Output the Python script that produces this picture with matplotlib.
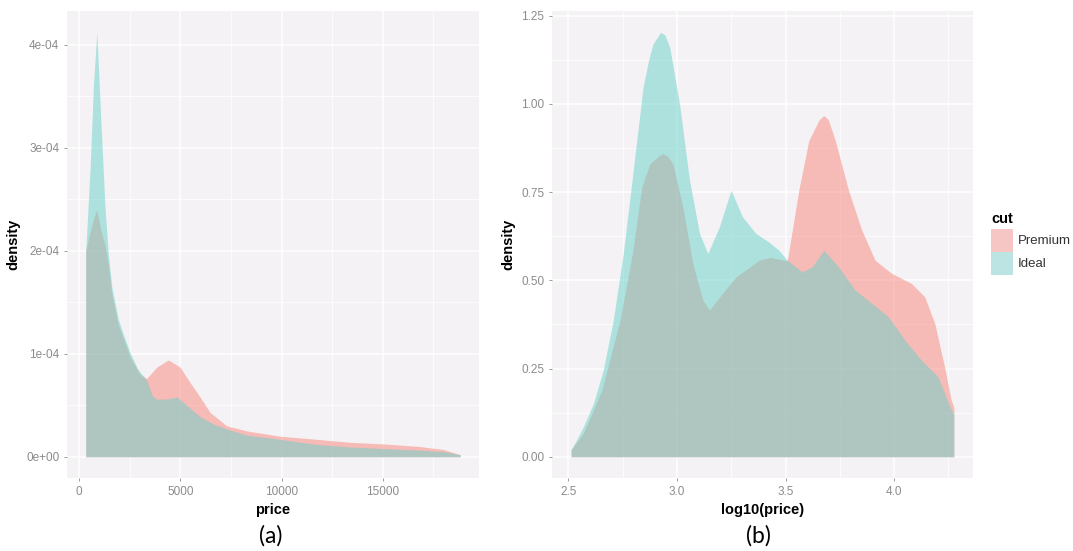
import matplotlib
matplotlib.use("Agg")
import matplotlib.pyplot as plt
from matplotlib.patches import Rectangle
from matplotlib.ticker import MultipleLocator, FuncFormatter

# ---------------- data ----------------
# panel (a): density vs price  (density in units of 1e-4)
price_ideal = [326, 543, 707, 873, 960, 1071, 1283, 1450, 1614, 1940, 2250, 2517, 2900,
               3340, 3600, 3800, 4330, 4820, 5310, 5973, 6600, 7290, 8300, 9900,
               11700, 13400, 15000, 16800, 18000, 18823]
dens_ideal = [2.0, 2.8, 3.6, 4.12, 3.75, 3.27, 2.40, 1.95, 1.65, 1.33, 1.15, 1.01, 0.85,
              0.74, 0.60, 0.56, 0.56, 0.58, 0.50, 0.39, 0.32, 0.27, 0.21, 0.17,
              0.12, 0.095, 0.08, 0.065, 0.05, 0.02]
price_prem = [326, 500, 700, 873, 1071, 1283, 1450, 1614, 1940, 2517, 3000, 3340, 3835,
              4410, 4985, 5479, 5973, 6466, 7290, 8300, 9900, 11700, 13400, 15000,
              16800, 18000, 18823]
dens_prem = [2.0, 2.15, 2.3, 2.40, 2.2, 2.05, 1.85, 1.58, 1.28, 0.97, 0.80, 0.76, 0.87,
             0.94, 0.87, 0.72, 0.58, 0.43, 0.30, 0.25, 0.20, 0.17, 0.14, 0.125,
             0.10, 0.07, 0.02]

# panel (b): density vs log10(price)
lp_ideal = [2.513, 2.540, 2.570, 2.616, 2.661, 2.707, 2.753, 2.799, 2.844, 2.870, 2.890,
            2.925, 2.945, 2.967, 3.012, 3.058, 3.104, 3.142, 3.195, 3.249, 3.302, 3.363,
            3.420, 3.470, 3.508, 3.576, 3.622, 3.676, 3.744, 3.821, 3.897, 3.973, 4.049,
            4.125, 4.202, 4.263, 4.275]
ld_ideal = [0.02, 0.05, 0.086, 0.152, 0.246, 0.387, 0.576, 0.812, 1.047, 1.125, 1.17,
            1.203, 1.195, 1.16, 1.00, 0.783, 0.633, 0.576, 0.651, 0.755, 0.68, 0.633,
            0.610, 0.585, 0.557, 0.524, 0.538, 0.585, 0.538, 0.472, 0.435, 0.397, 0.331,
            0.274, 0.227, 0.133, 0.12]
lp_prem = [2.513, 2.570, 2.655, 2.738, 2.795, 2.838, 2.875, 2.915, 2.936, 2.957, 2.982,
           3.027, 3.073, 3.119, 3.150, 3.210, 3.272, 3.330, 3.378, 3.430, 3.470, 3.508,
           3.561, 3.607, 3.655, 3.676, 3.697, 3.729, 3.790, 3.851, 3.912, 3.988, 4.080,
           4.141, 4.187, 4.232, 4.263, 4.275]
ld_prem = [0.02, 0.067, 0.19, 0.387, 0.576, 0.764, 0.830, 0.852, 0.859, 0.852, 0.830,
           0.708, 0.548, 0.444, 0.416, 0.463, 0.510, 0.535, 0.557, 0.565, 0.560, 0.555,
           0.755, 0.896, 0.955, 0.967, 0.955, 0.896, 0.755, 0.642, 0.557, 0.520, 0.491,
           0.453, 0.378, 0.255, 0.16, 0.14]

legend_title = "cut"
legend_labels = ["Premium", "Ideal"]
panel_labels = ["(a)", "(b)"]

# ---------------- style ----------------
W, H = 1073, 551
BG = "#F4F2F4"
PINK = "#F8857A"
CYAN = "#68D1C8"
ALPHA = 0.5
TICKCOL = "#8C8C8C"
FONT = "Liberation Sans"

fig = plt.figure(figsize=(W / 100, H / 100), dpi=100)
fig.patch.set_facecolor("white")


def px_axes(x0, x1, ytop, ybot):
    return fig.add_axes([x0 / W, 1 - ybot / H, (x1 - x0) / W, (ybot - ytop) / H])


def style(ax, xmaj, xmin, ymaj, ymin):
    ax.set_facecolor(BG)
    for s in ax.spines.values():
        s.set_visible(False)
    ax.xaxis.set_major_locator(MultipleLocator(xmaj))
    ax.xaxis.set_minor_locator(MultipleLocator(xmin))
    ax.yaxis.set_major_locator(MultipleLocator(ymaj))
    ax.yaxis.set_minor_locator(MultipleLocator(ymin))
    ax.grid(which="major", color="white", linewidth=1.1)
    ax.grid(which="minor", color="white", linewidth=0.5)
    ax.set_axisbelow(True)
    ax.tick_params(which="major", length=2.5, width=0.6, color=TICKCOL,
                   labelcolor=TICKCOL, labelsize=8.5, pad=3)
    ax.tick_params(which="minor", length=0)


# ---- panel (a)
ax1 = px_axes(67, 479, 11, 478)
ax1.fill_between(price_prem, 0, dens_prem, color=PINK, alpha=ALPHA, linewidth=0)
ax1.fill_between(price_ideal, 0, dens_ideal, color=CYAN, alpha=ALPHA, linewidth=0)
ax1.set_xlim(326 - 0.05 * (18823 - 326), 18823 + 0.05 * (18823 - 326))
ax1.set_ylim(-0.05 * 4.12, 4.12 * 1.05)
style(ax1, 5000, 2500, 1, 0.5)
ax1.yaxis.set_major_formatter(FuncFormatter(lambda v, p: "0e+00" if abs(v) < 1e-9 else f"{int(round(v))}e-04"))
ax1.xaxis.set_major_formatter(FuncFormatter(lambda v, p: f"{int(v)}"))
ax1.set_xlabel("price", fontsize=10.5, fontweight="bold", fontfamily=FONT, labelpad=4)
ax1.set_ylabel("density", fontsize=10.5, fontweight="bold", fontfamily=FONT, labelpad=4)

# ---- panel (b)
ax2 = px_axes(552, 973, 11, 478)
ax2.fill_between(lp_prem, 0, ld_prem, color=PINK, alpha=ALPHA, linewidth=0)
ax2.fill_between(lp_ideal, 0, ld_ideal, color=CYAN, alpha=ALPHA, linewidth=0)
rng = 4.275 - 2.513
ax2.set_xlim(2.513 - 0.05 * rng, 4.275 + 0.05 * rng)
ax2.set_ylim(-0.05 * 1.203, 1.203 * 1.05)
style(ax2, 0.5, 0.25, 0.25, 0.125)
ax2.yaxis.set_major_formatter(FuncFormatter(lambda v, p: f"{v:.2f}"))
ax2.xaxis.set_major_formatter(FuncFormatter(lambda v, p: f"{v:.1f}"))
ax2.set_xlabel("log10(price)", fontsize=10.5, fontweight="bold", fontfamily=FONT, labelpad=4)
ax2.set_ylabel("density", fontsize=10.5, fontweight="bold", fontfamily=FONT, labelpad=4)

for ax in (ax1, ax2):
    for lab in ax.get_xticklabels() + ax.get_yticklabels():
        lab.set_fontfamily(FONT)

# ---- legend (manual, ggplot-like)
fig.text(991 / W, 1 - 219 / H, legend_title, fontsize=10.5, fontweight="bold",
         fontfamily=FONT, va="center", ha="left")
for i, (lab, col) in enumerate(zip(legend_labels, [PINK, CYAN])):
    ytop = 229 + i * 23
    fig.patches.append(Rectangle((991 / W, 1 - (ytop + 23) / H), 22 / W, 23 / H,
                                 transform=fig.transFigure, facecolor=BG,
                                 edgecolor="none"))
    fig.patches.append(Rectangle((991 / W, 1 - (ytop + 23) / H), 22 / W, 23 / H,
                                 transform=fig.transFigure, facecolor=col, alpha=0.4,
                                 edgecolor="none"))
    fig.text(1018 / W, 1 - (ytop + 12) / H, lab, fontsize=9.5, fontfamily=FONT,
             va="center", ha="left", color="#333333")

# ---- panel captions
fig.text(271 / W, 1 - 536 / H, panel_labels[0], fontsize=16.5, fontfamily="Lato",
         ha="center", va="center")
fig.text(758 / W, 1 - 536 / H, panel_labels[1], fontsize=16.5, fontfamily="Lato",
         ha="center", va="center")

fig.savefig("out.png", dpi=100)
